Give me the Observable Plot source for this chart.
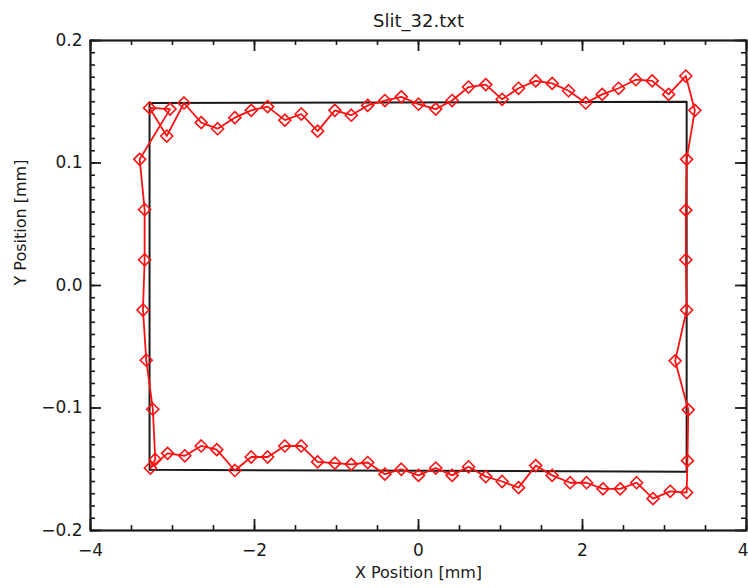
<!DOCTYPE html>
<html>
<head>
<meta charset="utf-8">
<script src="https://cdn.jsdelivr.net/npm/d3@7"></script>
<script src="https://cdn.jsdelivr.net/npm/@observablehq/plot@0.6"></script>
<style>
  html, body { margin: 0; padding: 0; background: #fff; }
  svg { font-family: "DejaVu Sans", sans-serif; }
</style>
</head>
<body>
<div id="chart"></div>
<script>
const title = "Slit_32.txt";
const xLabel = "X Position [mm]";
const yLabel = "Y Position [mm]";
const xTickLabels = [-4, -2, 0, 2, 4];
const yTickLabels = [-0.2, -0.1, 0.0, 0.1, 0.2];

// Nominal slit outline (black)
const slitX = [-3.28, 3.27, 3.27, -3.28];
const slitY = [0.149, 0.150, -0.152, -0.1505];

// Measured positions (red diamonds), in measurement order
const measX = [
  -3.40, -3.34, -3.34, -3.36, -3.32, -3.24, -3.21, -3.27,
  -3.06, -2.85, -2.65, -2.46, -2.24, -2.04, -1.84, -1.63, -1.43, -1.23, -1.02, -0.82, -0.62, -0.41, -0.21,
  0.00, 0.21, 0.41, 0.61, 0.82, 1.02, 1.22, 1.43, 1.63, 1.85, 2.05, 2.25, 2.46, 2.66, 2.86, 3.07, 3.27,
  3.28, 3.29, 3.13, 3.27, 3.26, 3.26, 3.27, 3.37, 3.26,
  3.05, 2.85, 2.65, 2.44, 2.24, 2.04, 1.83, 1.63, 1.43, 1.22, 1.02, 0.82, 0.61, 0.41, 0.21, 0.00,
  -0.21, -0.41, -0.62, -0.82, -1.02, -1.23, -1.43, -1.63, -1.84, -2.04, -2.24, -2.45, -2.65, -2.86,
  -3.07, -3.28, -3.03
];
const measY = [
  0.103, 0.062, 0.021, -0.020, -0.061, -0.101, -0.142, -0.149,
  -0.137, -0.139, -0.131, -0.134, -0.151, -0.140, -0.140, -0.131, -0.131, -0.144, -0.145, -0.146, -0.1445, -0.154, -0.150,
  -0.155, -0.149, -0.155, -0.148, -0.156, -0.160, -0.165, -0.147, -0.155, -0.161, -0.161, -0.166, -0.166, -0.161, -0.174, -0.168, -0.169,
  -0.143, -0.1015, -0.0615, -0.020, 0.021, 0.0615, 0.103, 0.143, 0.171,
  0.156, 0.167, 0.168, 0.161, 0.156, 0.149, 0.159, 0.165, 0.167, 0.161, 0.152, 0.164, 0.162, 0.151, 0.144, 0.148,
  0.154, 0.151, 0.147, 0.139, 0.143, 0.126, 0.140, 0.135, 0.146, 0.143, 0.137, 0.128, 0.133, 0.149,
  0.122, 0.145, 0.144
];

const slit = slitX.map((x, i) => ({x, y: slitY[i]}));
const meas = measX.map((x, i) => ({x, y: measY[i]}));

const xMajor = xTickLabels;
const xMinor = d3.ticks(-4, 4, 16);
const yMajor = yTickLabels;
const yMinor = d3.ticks(-0.2, 0.2, 40);

const red = "#ff1010";
const ink = "#1a1a1a";
const font = "'DejaVu Sans', sans-serif";
const fmtX = d3.format("d");

const chart = Plot.plot({
  width: 748,
  height: 588,
  marginLeft: 90,
  marginRight: 2,
  marginTop: 40,
  marginBottom: 58,
  style: {fontSize: "17px", fontFamily: font, color: ink},
  x: {domain: [-4, 4], axis: null},
  y: {domain: [-0.2, 0.2]},
  marks: [
    // tick marks (inward) on all four sides
    Plot.tickX(xMinor, {x: d => d, insetTop: 485, stroke: ink, strokeWidth: 1.6}),
    Plot.tickX(xMinor, {x: d => d, insetBottom: 485, stroke: ink, strokeWidth: 1.6}),
    Plot.tickX(xMajor, {x: d => d, insetTop: 479, stroke: ink, strokeWidth: 1.8}),
    Plot.tickX(xMajor, {x: d => d, insetBottom: 479, stroke: ink, strokeWidth: 1.8}),
    Plot.tickY(yMinor, {y: d => d, insetRight: 651, stroke: ink, strokeWidth: 1.6}),
    Plot.tickY(yMinor, {y: d => d, insetLeft: 651, stroke: ink, strokeWidth: 1.6}),
    Plot.tickY(yMajor, {y: d => d, insetRight: 645, stroke: ink, strokeWidth: 1.8}),
    Plot.tickY(yMajor, {y: d => d, insetLeft: 645, stroke: ink, strokeWidth: 1.8}),
    Plot.frame({stroke: ink, strokeWidth: 2.2}),
    // x tick labels
    Plot.text(xTickLabels.filter(d => d < 4), {x: d => d, frameAnchor: "bottom", dy: 25, text: fmtX, fontSize: 17, fill: ink}),
    Plot.text(xTickLabels.filter(d => d >= 4), {x: d => d, frameAnchor: "bottom", dy: 25, dx: 2, textAnchor: "end", text: fmtX, fontSize: 17, fill: ink}),
    Plot.axisY({ticks: yTickLabels, tickSize: 0, tickPadding: 8, tickFormat: d3.format(".1f"), label: null, fontSize: 17}),
    // nominal outline
    Plot.line(slit, {x: "x", y: "y", curve: "linear-closed", stroke: ink, strokeWidth: 2}),
    // measurements
    Plot.line(meas, {x: "x", y: "y", curve: "linear-closed", stroke: red, strokeWidth: 1.8}),
    Plot.dot(meas, {x: "x", y: "y", symbol: "diamond2", r: 5.4, stroke: red, strokeWidth: 1.6, fill: "none"}),
    // titles
    Plot.text([title], {frameAnchor: "top", dy: -26, text: d => d, fontSize: 18, fill: ink}),
    Plot.text([xLabel], {frameAnchor: "bottom", dy: 47, text: d => d, fontSize: 16, fill: ink}),
    Plot.text([yLabel], {frameAnchor: "left", dx: -70, rotate: -90, text: d => d, fontSize: 16, fill: ink})
  ]
});
document.getElementById("chart").appendChild(chart);
</script>
</body>
</html>
